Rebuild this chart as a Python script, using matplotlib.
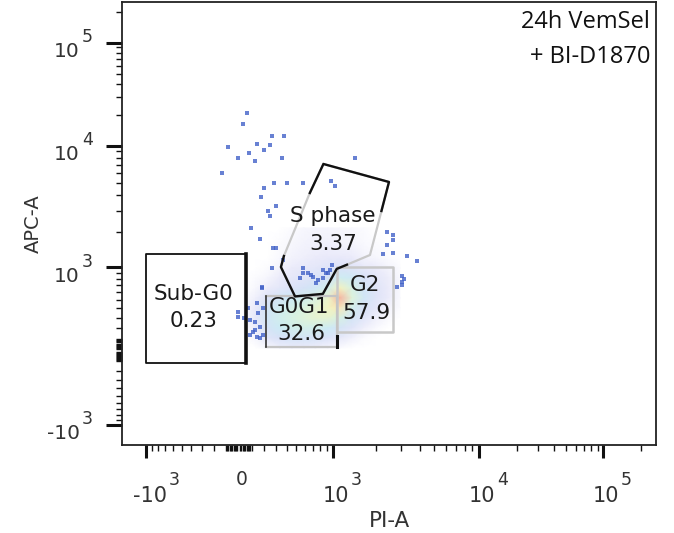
import numpy as np
import matplotlib
matplotlib.use("Agg")
import matplotlib.pyplot as plt
from matplotlib.colors import LinearSegmentedColormap
from matplotlib.transforms import blended_transform_factory, ScaledTranslation

# ---- data (PI-A / APC-A values) ----
# sparse events
DOT_PI = [63, 30, 265, 376, 143, 248, -81, 194, 78, -2, 127, 357, -132, 282, 400,
          578, 955, 1025, 194, 176, 300, 228, 248, 95, 163, 300, 1436, 2620, 2390,
          3250, 3800, 2240, 2645, 3010, 3010, 3010, 3120, -4, -4, 72, 86, 125, 138,
          165, 192, 178, 276, 360, 262, 578, 633, 694, 760, 839, 880, 950, 539, 677,
          736, 839, 920, 578, 976, 138, 152, 125, 111, 192, 165, 178, 40, 86, 2785,
          2645, 2390]
DOT_APC = [20800, 16200, 12400, 12400, 10500, 10150, 9800, 9200, 8700, 7900, 7600,
           7900, 6070, 5010, 5010, 5010, 5170, 4700, 4550, 3860, 3265, 2990, 2709,
           2150, 1760, 1475, 7950, 1890, 1560, 1250, 1140, 1310, 1330, 840, 750, 700,
           785, 363, 310, 400, 277, 182, 120, 210, 400, 650, 1460, 1160, 980, 890, 890,
           830, 779, 805, 890, 953, 805, 858, 725, 953, 890, 980, 1045, 455, 346, 262,
           166, 136, 106, 675, 297, 136, 669, 1720, 2010]

# density of the main population (pseudocolour)
PI_BINS = [40, 133, 231, 336, 453, 586, 728, 915, 1119, 1370, 1660, 2010, 2432, 2929]
APC_BINS = [2160, 1620, 1220, 987, 816, 655, 521, 404, 297, 200, 109, 22]
DENSITY = [
    [0, 0, 0, 0, .02, .04, .05, .05, .04, .03, .02, 0, 0, 0],
    [0, 0, 0, .02, .04, .06, .07, .07, .06, .05, .03, .02, 0, 0],
    [0, 0, 0, .03, .06, .08, .10, .12, .12, .10, .06, .04, .02, 0],
    [0, 0, .02, .06, .10, .13, .16, .20, .24, .20, .14, .10, .06, .02],
    [0, .02, .05, .10, .14, .18, .22, .28, .42, .38, .26, .16, .09, .03],
    [0, .04, .10, .16, .22, .28, .34, .46, .72, .52, .32, .20, .10, .04],
    [.02, .08, .22, .32, .40, .46, .54, .66, 1.0, .58, .34, .20, .10, .03],
    [.04, .12, .32, .43, .50, .56, .62, .70, .80, .46, .26, .15, .06, .02],
    [.04, .14, .35, .46, .53, .58, .62, .62, .52, .32, .18, .08, .03, 0],
    [.02, .10, .30, .40, .46, .48, .46, .40, .30, .18, .08, .03, 0, 0],
    [0, .05, .18, .26, .30, .30, .28, .22, .14, .07, .02, 0, 0, 0],
    [0, 0, .04, .08, .10, .10, .08, .05, .02, 0, 0, 0, 0, 0],
]

# gates
SUBG0_PI, SUBG0_APC = [-990, 53], [-119, 1300]
G0G1_PI, G0G1_APC = [211, 1067], [33, 549]
G2_PI, G2_APC = [1067, 2643], [166, 1010]
SPHASE_PI = [843, 2471, 2195, 1830, 1260, 1061, 835, 485, 345, 373, 656]
SPHASE_APC = [7130, 5107, 2976, 1282, 1055, 969, 574, 541, 1005, 1257, 4162]

GATE_TEXT = ["Sub-G0", "0.23", "G0G1", "32.6", "G2", "57.9", "S phase", "3.37"]
GATE_TEXT_PI = [-382, -380, 529, 549, 1687, 1714, 1000, 1000]
GATE_TEXT_APC = [496, 210, 346, 92, 607, 284, 2434, 1414]

X_LABEL_AT = [-1000, 0, 1000, 10000, 100000]
X_LABELS = [("-10", "3"), ("0", ""), ("10", "3"), ("10", "4"), ("10", "5")]
Y_LABEL_AT = [-1000, 1000, 10000, 100000]
Y_LABELS = [("-10", "3"), ("10", "3"), ("10", "4"), ("10", "5")]

XLIM = (-1479, 266000)
YLIM = (-1521, 248300)

# ---- biexponential-like display scale ----
W = 500.0
ANCHOR_VALS = np.array([-1e4, -1e3, 0, 1e3, 1e4, 1e5, 1e6])
U_ANCH = np.arcsinh(ANCHOR_VALS / W)
X_CHAN = np.array([1.0, 145.7, 238.8, 333.3, 479.3, 603.3, 727.4])
Y_CHAN = -np.array([540.8, 425.0, 350.5, 267.3, 145.7, 42.7, -60.3])


def make_scale(chan):
    def fwd(v):
        return np.interp(np.arcsinh(np.asarray(v, float) / W), U_ANCH, chan)

    def inv(c):
        return W * np.sinh(np.interp(np.asarray(c, float), chan, U_ANCH))
    return fwd, inv


def minor_ticks(lo, hi):
    t = []
    for s in (-1, 1):
        for dec in (10, 100, 1000, 10000, 100000):
            for m in range(1, 10):
                if m == 1 and dec in (1000, 10000, 100000):
                    continue
                v = s * m * dec
                if lo < v < hi:
                    t.append(v)
    return sorted(t)


fig = plt.figure(figsize=(6.74, 5.33), dpi=100)
ax = fig.add_axes([0.1815, 0.1651, 0.7918, 0.8311])
ax.set_xscale("function", functions=make_scale(X_CHAN))
ax.set_yscale("function", functions=make_scale(Y_CHAN))

cmap = LinearSegmentedColormap.from_list("flow", [
    (0.0, (1, 1, 1)), (0.1, (0.92, 0.92, 0.98)), (0.25, (0.85, 0.88, 0.97)),
    (0.4, (0.80, 0.92, 0.96)), (0.55, (0.85, 0.95, 0.88)), (0.7, (0.95, 0.96, 0.76)),
    (0.85, (0.99, 0.88, 0.70)), (1.0, (0.97, 0.70, 0.62))])
Xg, Yg = np.meshgrid(PI_BINS, APC_BINS)
ax.pcolormesh(Xg, Yg, np.array(DENSITY), shading="gouraud", cmap=cmap,
              vmin=0, vmax=1, zorder=1)

ax.scatter(DOT_PI, DOT_APC, s=6, color="#4262c8", marker="s", linewidths=0,
           alpha=0.8, zorder=2)

# gates
x0, x1 = SUBG0_PI
y0, y1 = SUBG0_APC
ax.plot([x1, x0, x0, x1], [y0, y0, y1, y1], color="#111", lw=1.3, zorder=3)
ax.plot([x1, x1], [y0, y1], color="#111", lw=2.6, zorder=3)

x0, x1 = G2_PI
y0, y1 = G2_APC
ax.plot([x0, x1, x1, x0, x0], [y0, y0, y1, y1, y0], color="#c8c8c8", lw=1.8, zorder=3)

x0, x1 = G0G1_PI
y0, y1 = G0G1_APC
ax.plot([x0, x1, x1, x0], [y1, y1, y0, y0], color="#c4c4c4", lw=1.6, zorder=3)
ax.plot([x0, x0], [y0, y1], color="#333", lw=1.2, zorder=3)
ax.plot([x1, x1], [y0, 127], color="#111", lw=2.2, zorder=3)

sp_x = SPHASE_PI + SPHASE_PI[:1]
sp_y = SPHASE_APC + SPHASE_APC[:1]
ax.plot(sp_x, sp_y, color="#c8c8c8", lw=1.6, zorder=3)
ax.plot([SPHASE_PI[10], SPHASE_PI[0], SPHASE_PI[1], SPHASE_PI[2]],
        [SPHASE_APC[10], SPHASE_APC[0], SPHASE_APC[1], SPHASE_APC[2]],
        color="#111", lw=1.7, zorder=4)
ax.plot(SPHASE_PI[4:10][::-1], SPHASE_APC[4:10][::-1], color="#111", lw=1.7, zorder=4)

for s, xv, yv in zip(GATE_TEXT, GATE_TEXT_PI, GATE_TEXT_APC):
    ax.text(xv, yv, s, ha="center", va="baseline", fontsize=15.5,
            color="#1a1a1a", family="DejaVu Sans", zorder=5)

# axes frame and ticks
for sp in ax.spines.values():
    sp.set_linewidth(1.3)
    sp.set_color("#222")
ax.set_xticks([-1000, 1000, 10000, 100000])
ax.set_yticks([-1000, 1000, 10000, 100000])
ax.set_xticks(minor_ticks(*XLIM), minor=True)
ax.set_yticks(minor_ticks(*YLIM), minor=True)
ax.set_xlim(*XLIM)
ax.set_ylim(*YLIM)
ax.tick_params(which="both", direction="out", color="#111",
               labelbottom=False, labelleft=False)
ax.tick_params(axis="x", which="major", length=9.4, width=2.2)
ax.tick_params(axis="y", which="major", length=11.5, width=2.2)
ax.tick_params(which="minor", length=4.3, width=1.0)


def off(dx, dy):
    return ScaledTranslation(dx / 100, dy / 100, fig.dpi_scale_trans)


xt = blended_transform_factory(ax.transData, ax.transAxes)
for v, (base, sup) in zip(X_LABEL_AT, X_LABELS):
    if base == "0":
        ax.text(v, 0, base, transform=xt + off(2.5, -40), ha="center",
                va="baseline", fontsize=13.5, color="#333")
        continue
    shift = 21 if base.startswith("-") else 15.7
    ax.text(v, 0, base, transform=xt + off(shift, -56.7), ha="right",
            va="baseline", fontsize=15, color="#333")
    ax.text(v, 0, sup, transform=xt + off(shift + 2, -40), ha="left",
            va="baseline", fontsize=12.5, color="#333")

yt = blended_transform_factory(ax.transAxes, ax.transData)
for v, (base, sup) in zip(Y_LABEL_AT, Y_LABELS):
    ax.text(0, v, base, transform=yt + off(-42.3, -14.5), ha="right",
            va="baseline", fontsize=14.5, color="#333")
    ax.text(0, v, sup, transform=yt + off(-40.6, 0.5), ha="left",
            va="baseline", fontsize=12.5, color="#333")

ax.set_xlabel("PI-A", fontsize=15.5, color="#333")
ax.xaxis.set_label_coords(0.5, -0.149)
ax.set_ylabel("APC-A", fontsize=14, color="#333")
ax.yaxis.set_label_coords(-0.1497, 0.5)

fig.text(650 / 674, 1 - 28.3 / 533, "24h VemSel", ha="right", va="baseline",
         fontsize=17, family="Open Sans", color="#111")
fig.text(650 / 674, 1 - 62.7 / 533, "+ BI-D1870", ha="right", va="baseline",
         fontsize=17, family="Open Sans", color="#111")

fig.savefig("out.png", dpi=100)
